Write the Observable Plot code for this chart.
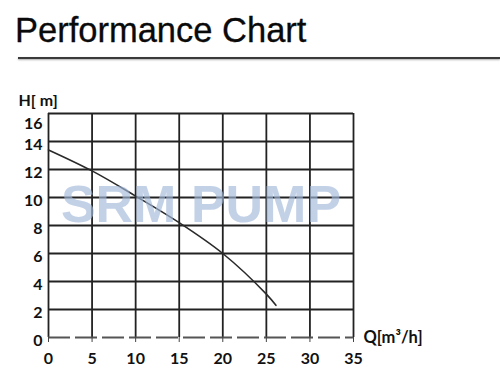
<!DOCTYPE html>
<html>
<head>
<meta charset="utf-8">
<script src="https://cdn.jsdelivr.net/npm/d3@7"></script>
<script src="https://cdn.jsdelivr.net/npm/@observablehq/plot@0.6"></script>
<style>
  html, body { margin: 0; padding: 0; background: #fff; width: 500px; height: 385px; overflow: hidden; }
  #head { position: relative; height: 70px; }
  #title { position: absolute; left: 15px; top: 11px; font: 34.5px "Liberation Sans", Arial, sans-serif; color: #0a0a0a; white-space: nowrap; -webkit-text-stroke: 0.3px #0a0a0a; }
  #rule { position: absolute; left: 18px; top: 57px; width: 482px; height: 2px; background: #3a3a3a; box-shadow: 0 1px 2px #aaa; }
  svg { display: block; }
</style>
</head>
<body>
<div id="head"><div id="title">Performance Chart</div><div id="rule"></div></div>
<div id="chart"></div>
<script>
const flow = [0, 5, 10, 15, 20, 25, 26.1];
const head = [13.4, 11.9, 10.1, 8.2, 6.0, 3.1, 2.3];
const xTicks = [0, 5, 10, 15, 20, 25, 30, 35];
const yTicks = [0, 2, 4, 6, 8, 10, 12, 14, 16];
const yAxisLabel = "H[ m]";
const xAxisLabel = "Q[m³/h]";
const watermark = "SRM PUMP";

const curve = flow.map((q, i) => ({q, h: head[i]}));
const font = "Lato, 'Open Sans', sans-serif";
const yTop = yTicks[yTicks.length - 1];

const chart = Plot.plot({
  width: 500,
  height: 315,
  marginTop: 43,
  marginBottom: 48,
  marginLeft: 48,
  marginRight: 147,
  style: {fontFamily: font, fontSize: "16px", fontWeight: "bold", color: "#111", background: "#fff"},
  x: {domain: [0, 35], ticks: xTicks},
  y: {domain: [0, 16], ticks: yTicks},
  marks: [
    Plot.gridX(xTicks, {stroke: "#222", strokeOpacity: 1, strokeWidth: 1.8}),
    Plot.gridY(yTicks.filter(d => d > 0), {stroke: "#222", strokeOpacity: 1, strokeWidth: 1.8}),
    Plot.ruleY([0], {stroke: "#555", strokeWidth: 1.8, strokeDasharray: "22,5"}),
    Plot.axisX(xTicks, {tickSize: 5, tickPadding: 10, stroke: "#444", fontSize: 16, fontWeight: "bold", fill: "#111", label: null}),
    Plot.axisY(yTicks.filter(d => d < yTop), {tickSize: 0, tickPadding: 6, dy: 3, fontSize: 16, fontWeight: "bold", fill: "#111", label: null}),
    Plot.axisY([yTop], {tickSize: 0, tickPadding: 6, dy: 10, fontSize: 16, fontWeight: "bold", fill: "#111", label: null}),
    Plot.line(curve, {x: "q", y: "h", stroke: "#2a2a2a", strokeWidth: 1.6, curve: "catmull-rom"}),
    Plot.text([watermark], {frameAnchor: "middle", dy: -20, fontSize: 52, fontWeight: "bold", fontFamily: "'Liberation Sans', Arial, sans-serif", fill: "#a3b8da", fillOpacity: 0.65}),
    Plot.text([yAxisLabel], {frameAnchor: "top-left", dx: -30, dy: -19, textAnchor: "start", fontSize: 16, fontWeight: "bold", fill: "#111"}),
    Plot.text([xAxisLabel], {frameAnchor: "bottom-right", dx: 10, dy: 5, textAnchor: "start", fontSize: 16.5, fontWeight: "bold", fill: "#111"})
  ]
});
document.getElementById("chart").appendChild(chart);
</script>
</body>
</html>
